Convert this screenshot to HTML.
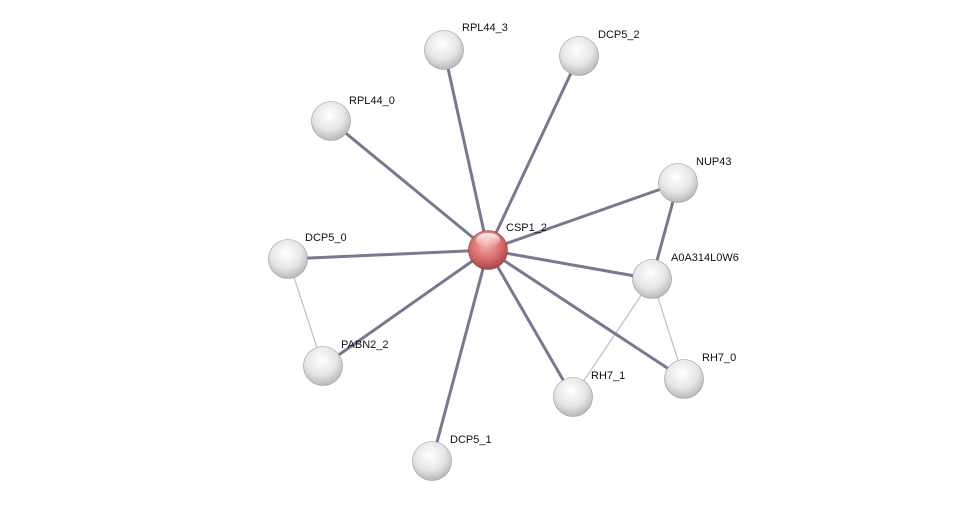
<!DOCTYPE html>
<html><head><meta charset="utf-8"><style>
html,body{margin:0;padding:0;background:#fff;}
svg{display:block;}
text{font-family:"Liberation Sans",sans-serif;font-size:11px;fill:#111;}
</style></head><body>
<svg width="975" height="506" viewBox="0 0 975 506">
<defs>
<radialGradient id="g" cx="0.45" cy="0.35" r="0.65">
<stop offset="0" stop-color="#ffffff"/><stop offset="0.6" stop-color="#e6e6e6"/><stop offset="1" stop-color="#b8b8b8"/>
</radialGradient>
<radialGradient id="r" cx="0.45" cy="0.35" r="0.65">
<stop offset="0" stop-color="#f2b0b0"/><stop offset="0.6" stop-color="#d96d6d"/><stop offset="1" stop-color="#a84848"/>
</radialGradient>
<linearGradient id="hl" x1="0" y1="0" x2="0" y2="1">
<stop offset="0" stop-color="#fff" stop-opacity="0.9"/><stop offset="1" stop-color="#fff" stop-opacity="0"/>
</linearGradient>
</defs>
<g stroke="#c4c4c8" stroke-width="1.3">
<line x1="288" y1="259" x2="323" y2="366"/>
<line x1="652" y1="279" x2="573" y2="397"/>
<line x1="652" y1="279" x2="684" y2="379"/>
</g>
<g stroke="#767a90" stroke-width="3">
<line x1="488" y1="250" x2="444" y2="50"/>
<line x1="488" y1="250" x2="579" y2="56"/>
<line x1="488" y1="250" x2="331" y2="121"/>
<line x1="488" y1="250" x2="678" y2="183"/>
<line x1="488" y1="250" x2="288" y2="259"/>
<line x1="488" y1="250" x2="652" y2="279"/>
<line x1="488" y1="250" x2="323" y2="366"/>
<line x1="488" y1="250" x2="573" y2="397"/>
<line x1="488" y1="250" x2="684" y2="379"/>
<line x1="488" y1="250" x2="432" y2="461"/>
<line x1="678" y1="183" x2="652" y2="279"/>
</g>
<g stroke="#999" stroke-width="0.6">
<circle cx="444" cy="50" r="19.5" fill="url(#g)"/>
<circle cx="579" cy="56" r="19.5" fill="url(#g)"/>
<circle cx="331" cy="121" r="19.5" fill="url(#g)"/>
<circle cx="678" cy="183" r="19.5" fill="url(#g)"/>
<circle cx="288" cy="259" r="19.5" fill="url(#g)"/>
<circle cx="652" cy="279" r="19.5" fill="url(#g)"/>
<circle cx="323" cy="366" r="19.5" fill="url(#g)"/>
<circle cx="573" cy="397" r="19.5" fill="url(#g)"/>
<circle cx="684" cy="379" r="19.5" fill="url(#g)"/>
<circle cx="432" cy="461" r="19.5" fill="url(#g)"/>
<circle cx="488" cy="250" r="19.5" fill="url(#r)" stroke="#8a3a3a"/>
</g>
<ellipse cx="488" cy="240" rx="12" ry="7" fill="url(#hl)"/>
<text x="462" y="31">RPL44_3</text>
<text x="598" y="38">DCP5_2</text>
<text x="349" y="104">RPL44_0</text>
<text x="696" y="165">NUP43</text>
<text x="506" y="231">CSP1_2</text>
<text x="305" y="241">DCP5_0</text>
<text x="671" y="261">A0A314L0W6</text>
<text x="341" y="348">PABN2_2</text>
<text x="702" y="361">RH7_0</text>
<text x="591" y="379">RH7_1</text>
<text x="450" y="443">DCP5_1</text>
</svg>
</body></html>
